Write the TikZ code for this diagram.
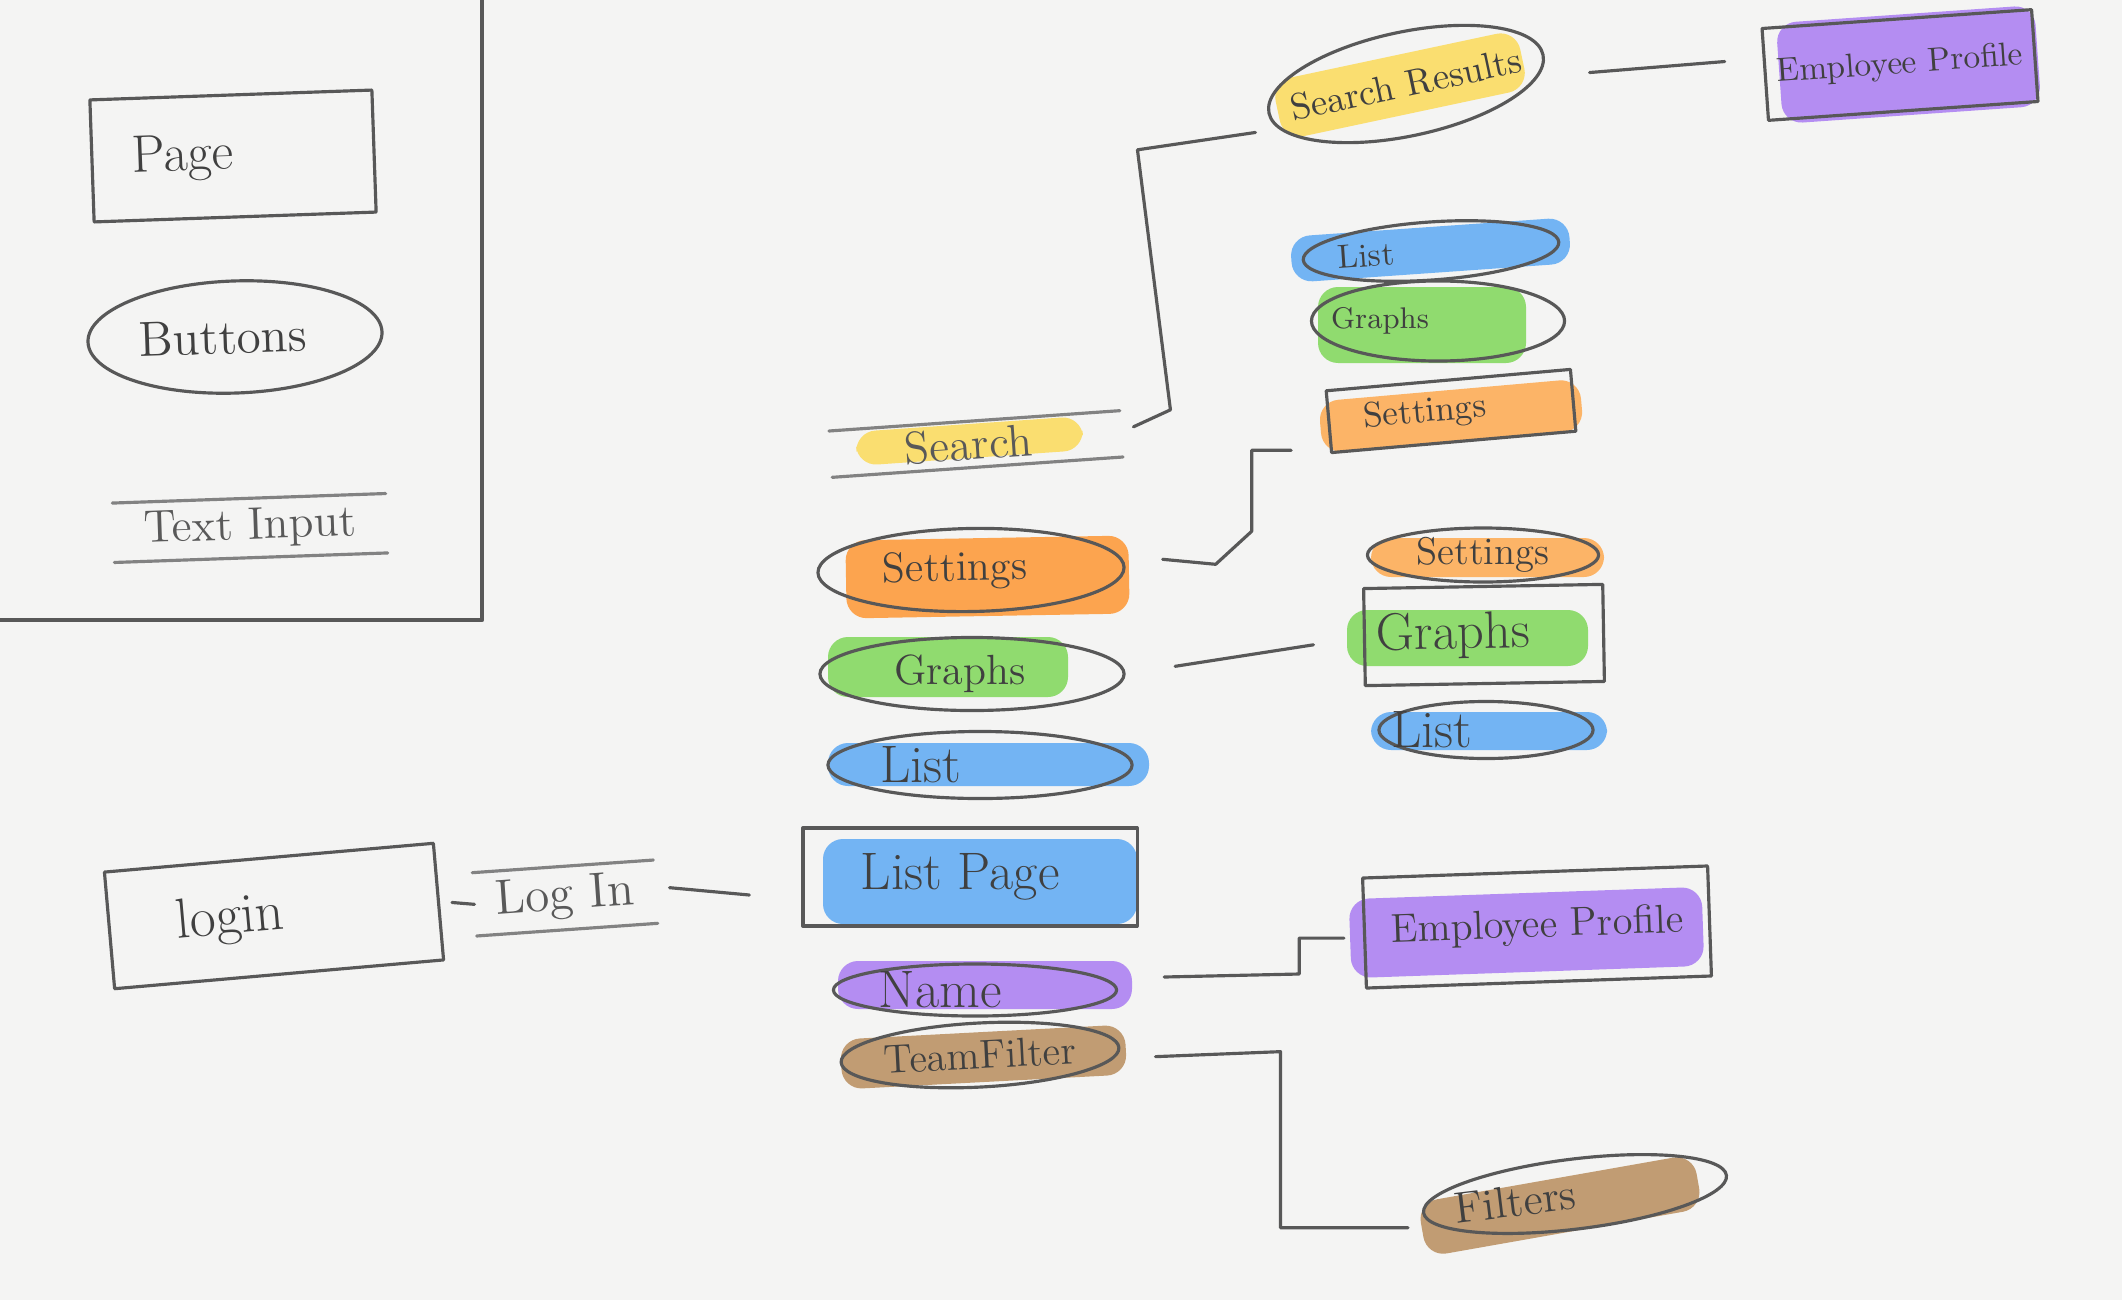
\documentclass[tikz,border=0pt]{standalone}
\usepackage{tikz}
\usetikzlibrary{shapes.geometric,calc}
\definecolor{paper}{HTML}{F4F4F3}
\definecolor{pencilgray}{HTML}{585858}
\definecolor{wfyellow}{HTML}{FCD84C}
\definecolor{wforange}{HTML}{FFA340}
\definecolor{wfdeeporange}{HTML}{FF8E22}
\definecolor{wfgreen}{HTML}{74D44A}
\definecolor{wfblue}{HTML}{4FA2F4}
\definecolor{wfpurple}{HTML}{A271F2}
\definecolor{wfbrown}{HTML}{B3844F}
\tikzset{
  pencil/.style={draw=pencilgray, line width=0.9pt, line cap=round, line join=round},
  pagebox/.style={pencil, rectangle, inner sep=0pt, text=black!75},
  buttonnode/.style={pencil, ellipse, inner xsep=-6pt, inner ysep=0pt, text=black!75},
  inputnode/.style={rectangle, inner sep=0pt, text=black!65},
  paint/.style={rounded corners=0.2cm, opacity=0.78}
}
\newcommand{\wfsize}[1]{\fontsize{#1}{#1}\selectfont}
\newcommand{\wfpage}[4] {\node at (#1) (#2) [pagebox, #3] {#4};}
\newcommand{\wfbutton}[4] {\node at (#1) (#2) [buttonnode, #3] {#4};}
\newcommand{\wfinput}[4] {\node at (#1) (#2) [inputnode, #3] {#4};
  \draw [pencil, draw=pencilgray!75] (#2.north west) -- (#2.north east) (#2.south west) -- (#2.south east);}
\newcommand{\wfpaint}[4] {\fill [paint, fill=#1, rotate around={#2:($(#3)!0.5!(#4)$)}] (#3) rectangle (#4);}
\newcommand{\wflink}[2] {\draw [pencil] (#1) -- (#2);}

\begin{document}
\begin{tikzpicture}[x=0.01cm, y=-0.01cm]

\fill [paper] (0,0) rectangle (2122,1300);
\useasboundingbox (0,0) rectangle (2122,1300);

% paint under the labels
\wfpaint{wfyellow}{4}{856,424}{1083,458}
\wfpaint{wfdeeporange}{1}{846,538}{1129,616}
\wfpaint{wfgreen}{0}{828,637}{1068,697}
\wfpaint{wfblue}{0}{828,743}{1149,786}
\wfpaint{wfblue}{0}{823,839}{1137,924}
\wfpaint{wfpurple}{0}{838,961}{1132,1009}
\wfpaint{wfbrown}{3}{841,1032}{1126,1082}
\wfpaint{wfyellow}{12}{1275,55}{1525,115}
\wfpaint{wfpurple}{4}{1779,14}{2038,115}
\wfpaint{wfblue}{4}{1291,227}{1570,273}
\wfpaint{wfgreen}{0}{1318,287}{1526,363}
\wfpaint{wforange}{5}{1320,390}{1582,442}
\wfpaint{wforange}{0}{1371,538}{1604,577}
\wfpaint{wfgreen}{0}{1347,610}{1588,666}
\wfpaint{wfblue}{0}{1371,712}{1607,750}
\wfpaint{wfpurple}{2}{1350,893}{1703,972}
\wfpaint{wfbrown}{10}{1420,1178}{1700,1233}

% legend
\draw [pencil, line width=1.2pt] (482,0) -- (482,620) -- (0,620);
\wfpage {233,156}{page}{rotate=2, minimum width=2.82cm, minimum height=1.22cm, font=\wfsize{15}}{Page\hspace*{1cm}}
\wfbutton {235,337}{buttons}{rotate=2, minimum width=2.94cm, minimum height=1.12cm, font=\wfsize{14}}{Buttons\hspace*{0.24cm}}
\wfinput {250,528}{textinput}{rotate=2, minimum width=2.72cm, minimum height=0.58cm, font=\wfsize{13}}{Text Input}

% login
\wfpage {274,916}{login}{rotate=5, minimum width=3.3cm, minimum height=1.17cm, font=\wfsize{16}}{login\hspace*{0.88cm}}
\wfinput {565,898}{loginput}{rotate=4, minimum width=1.8cm, minimum height=0.62cm, font=\wfsize{14}}{Log In}

% list page
\wfinput {976,444}{search}{rotate=4, minimum width=2.9cm, minimum height=0.45cm, font=\wfsize{13}}{Search\hspace*{0.15cm}}
\wfbutton {971,570}{settings}{rotate=1, minimum width=3.06cm, minimum height=0.83cm, font=\wfsize{12}}{Settings\hspace*{0.32cm}}
\wfbutton {972,674}{graphs}{minimum width=3.04cm, minimum height=0.73cm, font=\wfsize{12}}{Graphs\hspace*{0.24cm}}
\wfbutton {980,765}{list}{minimum width=3.04cm, minimum height=0.67cm, font=\wfsize{15}}{List\hspace*{1.18cm}}
\wfpage {970,877}{listpage}{minimum width=3.34cm, minimum height=0.98cm, font=\wfsize{15}}{List Page\hspace*{0.2cm}}
\wfbutton {975,990}{name}{minimum width=2.83cm, minimum height=0.52cm, font=\wfsize{15}}{Name\hspace*{0.7cm}}
\wfbutton {980,1055}{teamfilter}{rotate=3, minimum width=2.78cm, minimum height=0.64cm, font=\wfsize{11.5}}{TeamFilter}

% search results
\wfbutton {1406,84}{results}{rotate=12, minimum width=2.8cm, minimum height=1.04cm, font=\wfsize{10.5}}{Search Results}
\wfpage {1900,65}{topprofile}{rotate=4, minimum width=2.7cm, minimum height=0.92cm, font=\wfsize{9.5}}{Employee Profile}

% settings page
\wfbutton {1431,251}{toplist}{rotate=4, minimum width=2.56cm, minimum height=0.58cm, font=\wfsize{9.5}}{List\hspace*{1.3cm}}
\wfbutton {1438,321}{topgraphs}{minimum width=2.53cm, minimum height=0.8cm, font=\wfsize{8.5}}{Graphs\hspace*{1.16cm}}
\wfpage {1451,411}{topsettings}{rotate=5, minimum width=2.45cm, minimum height=0.62cm, font=\wfsize{10}}{Settings\hspace*{0.52cm}}

% graphs page
\wfbutton {1483,555}{sidesettings}{minimum width=2.31cm, minimum height=0.54cm, font=\wfsize{11}}{Settings}
\wfpage {1484,635}{sidegraphs}{rotate=1, minimum width=2.39cm, minimum height=0.97cm, font=\wfsize{15}}{Graphs\hspace*{0.62cm}}
\wfbutton {1486,730}{sidelist}{minimum width=2.14cm, minimum height=0.57cm, font=\wfsize{15}}{List\hspace*{1.08cm}}

% profile and filters
\wfpage {1537,927}{profile}{rotate=2, minimum width=3.45cm, minimum height=1.1cm, font=\wfsize{11.5}}{Employee Profile}
\wfbutton {1575,1194}{filters}{rotate=7, minimum width=3.05cm, minimum height=0.7cm, font=\wfsize{12.5}}{Filters\hspace*{1.2cm}}

% connectors
\draw [pencil, shorten <=0.12cm] (login.east) -- (loginput.west);
\wflink{[shift={(14,-4)}]loginput.east}{[shift={(-52,18)}]listpage.west}
\draw [pencil] ([shift={(12,-7)}]search.east) -- ++(37,-17) -- ++(-33,-260) -- ([shift={(-12,19)}]results.west);
\wflink{[shift={(45,18)}]results.east}{[shift={(-39,-13)}]topprofile.west}
\draw [pencil] ([shift={(37,-8)}]settings.east) -- ++(53,5) -- ++(36,-33) |- ([shift={(-39,-4)}]topsettings.south west);
\draw [pencil, shorten <=0.5cm, shorten >=0.5cm] (graphs.east) -- (sidegraphs.west);
\draw [pencil] ([shift={(46,-13)}]name.east) -- ++(135,-3) |- ([shift={(-19,5)}]profile.west);
\draw [pencil] ([shift={(35,9)}]teamfilter.east) -- ++(125,-5) |- ([shift={(-14,15)}]filters.west);

\end{tikzpicture}
\end{document}
